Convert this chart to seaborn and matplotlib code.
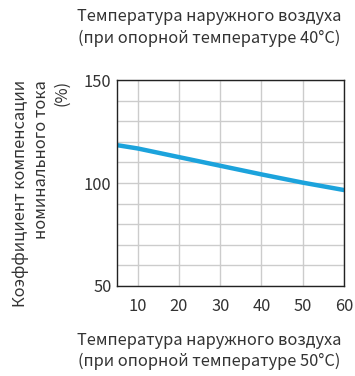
import matplotlib
matplotlib.use("Agg")
import matplotlib.pyplot as plt
import seaborn as sns
import pandas as pd

temps = [5, 10, 20, 30, 40, 50, 60]
factor = [118.4, 116.8, 112.6, 108.4, 104.2, 100.2, 96.6]
x_ticks = [10, 20, 30, 40, 50, 60]
y_ticks = [50, 100, 150]
top_label = "Температура наружного воздуха\n(при опорной температуре 40°C)"
bottom_label = "Температура наружного воздуха\n(при опорной температуре 50°C)"
y_label = "Коэффициент компенсации\nноминального тока\n(%)"

sns.set_style("white")
plt.rcParams['font.family'] = ['Noto Sans CJK JP', 'DejaVu Sans']

df = pd.DataFrame({"t": temps, "f": factor})

fig = plt.figure(figsize=(3.55, 3.76), dpi=100)
ax = fig.add_axes([0.3296, 0.2394, 0.6394, 0.5476])
sns.lineplot(data=df, x="t", y="f", ax=ax, color="#1ca3dc", linewidth=3.2)

ax.set_xlim(5, 60)
ax.set_ylim(50, 150)
ax.set_xticks(x_ticks)
ax.set_yticks(y_ticks)
ax.set_xticks(range(10, 61, 10), minor=True)
ax.set_yticks(range(50, 151, 10), minor=True)
ax.grid(True, which="both", color="#cccccc", linewidth=1)
ax.set_axisbelow(True)
ax.tick_params(which="both", length=0, labelsize=11.8, colors="#333333")
ax.tick_params(axis="x", pad=9)
ax.tick_params(axis="y", pad=4)
for s in ax.spines.values():
    s.set_color("#222222")
    s.set_linewidth(1)
ax.set_xlabel("")
ax.set_ylabel("")

fig.text(0.590, 0.927, top_label, ha="center", va="center", fontsize=11.8, color="#333333", linespacing=1.3)
fig.text(0.590, 0.0665, bottom_label, ha="center", va="center", fontsize=11.8, color="#333333", linespacing=1.3)
fig.text(0.116, 0.787, y_label, ha="center", va="top", rotation=90, multialignment="right",
         fontsize=11.8, color="#333333", linespacing=1.3)

fig.savefig("out.png", dpi=100)
